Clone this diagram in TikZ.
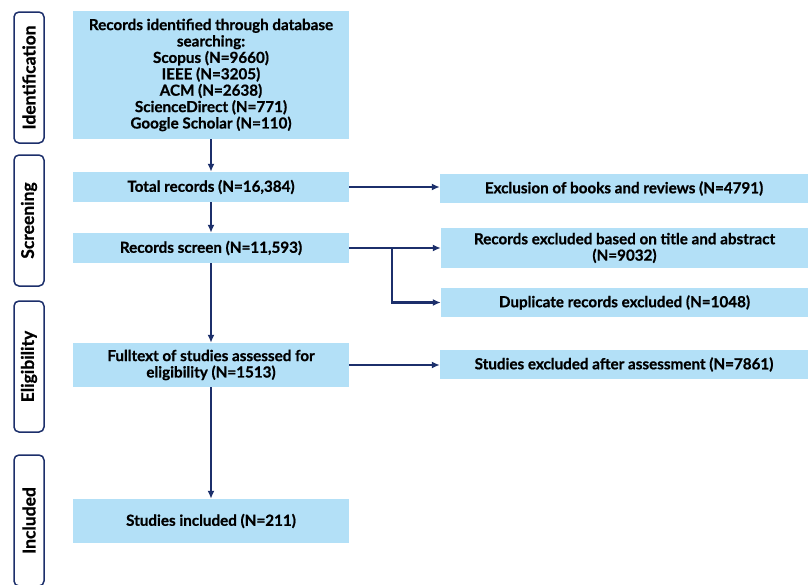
\documentclass[tikz,border=0pt]{standalone}
\usepackage{fontspec}
\setmainfont{Lato}[BoldFeatures={FakeBold=0.8}]
\usetikzlibrary{arrows.meta}
\definecolor{boxblue}{HTML}{B3E0F7}
\definecolor{navy}{HTML}{1C2F6B}
\tikzset{
  box/.style={fill=boxblue, draw=none, align=center, inner sep=2pt,
    font=\fontsize{15.2}{16.4}\selectfont\bfseries, text=black},
  side/.style={draw=navy, line width=1.5pt, rounded corners=5pt, fill=white,
    minimum width=30pt, minimum height=131pt},
  sidetext/.style={font=\fontsize{17.5}{19}\selectfont\bfseries, rotate=90},
  conn/.style={draw=navy, line width=2.3pt, -{Latex[length=8pt,width=7pt]}}
}
\begin{document}
\begin{tikzpicture}[x=1pt,y=-1pt]
\clip (0,0) rectangle (808,584);
\fill[white] (0,0) rectangle (808,584);
% side labels
\node[side] (sid) at (29,77.5) {};
\node[sidetext] (tid) at (sid.center) {Identification};
\node[side] (ssc) at (29,220.5) {};
\node[sidetext] (tsc) at (ssc.center) {Screening};
\node[side] (sel) at (29,366.5) {};
\node[sidetext] (tel) at (sel.center) {Eligibility};
\node[side] (sin) at (29,520.5) {};
\node[sidetext] (tin) at (sin.center) {Included};
% main boxes
\node[box, minimum width=276pt, minimum height=128pt] (b1) at (211,75)
  {Records identified through database\\searching:\\Scopus (N=9660)\\IEEE (N=3205)\\ACM (N=2638)\\ScienceDirect (N=771)\\Google Scholar (N=110)};
\node[box, minimum width=276pt, minimum height=30pt] (b2) at (211,187) {Total records (N=16,384)};
\node[box, minimum width=276pt, minimum height=30pt] (b3) at (211,248) {Records screen (N=11,593)};
\node[box, minimum width=276pt, minimum height=44pt] (b4) at (211,365) {Fulltext of studies assessed for\\eligibility (N=1513)};
\node[box, minimum width=276pt, minimum height=44pt] (b5) at (211,521) {Studies included (N=211)};
% right boxes
\node[box, minimum width=368pt, minimum height=29pt] (r1) at (624,188.5) {Exclusion of books and reviews (N=4791)};
\node[box, minimum width=367pt, minimum height=40pt] (r2) at (624.5,248) {Records excluded based on title and abstract\\(N=9032)};
\node[box, minimum width=367pt, minimum height=29pt] (r3) at (624.5,302.5) {Duplicate records excluded (N=1048)};
\node[box, minimum width=368pt, minimum height=29pt] (r4) at (624,364.5) {Studies excluded after assessment (N=7861)};
% connectors
\draw[conn] (b1) -- (b2);
\draw[conn] (b2) -- (b3);
\draw[conn] (b3) -- (b4);
\draw[conn] (b4) -- (b5);
\draw[conn] (b2.east) -- (b2.east -| r1.west);
\draw[conn] (b3.east) -- (b3.east -| r2.west);
\coordinate (br) at (392,248);
\draw[conn] (br) |- (r3.west);
\draw[conn] (b4.east) -- (b4.east -| r4.west);
\end{tikzpicture}
\end{document}
